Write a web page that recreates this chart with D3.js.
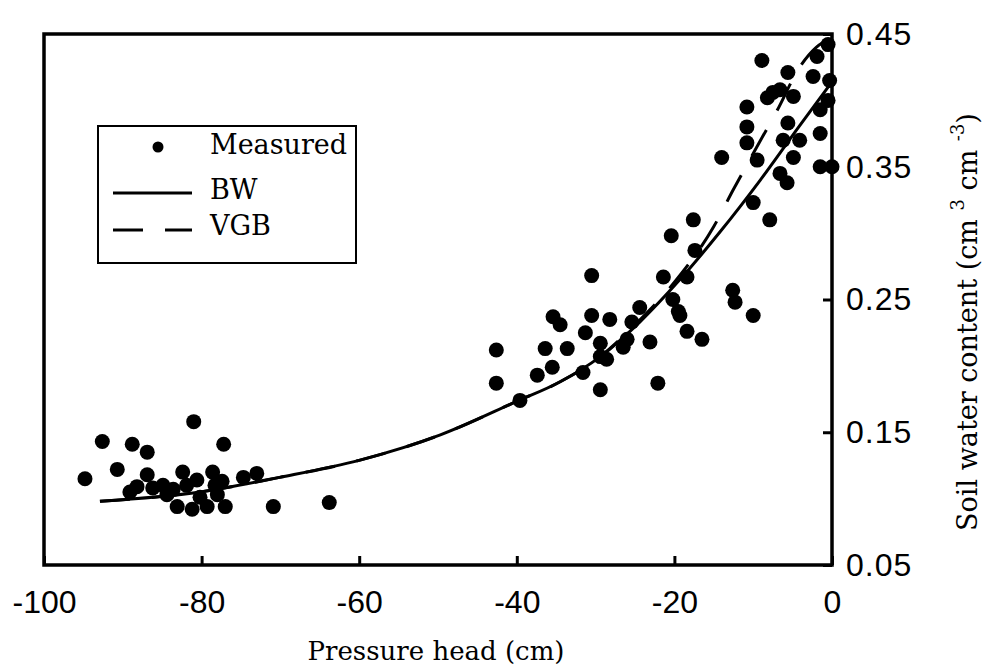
<!DOCTYPE html>
<html lang="en">
<head>
<meta charset="UTF-8">
<title>Soil water retention</title>
<script src="https://cdn.jsdelivr.net/npm/d3@7"></script>
<style>
  body{margin:0;background:#fff;}
  svg{display:block;}
  .tick text{font-family:"Liberation Sans",Arial,sans-serif;font-size:32px;fill:#000;}
  .serif{font-family:"DejaVu Serif",serif;fill:#000;}
</style>
</head>
<body>
<div id="chart"></div>
<script>
// tick values
var xTicks=[-100,-80,-60,-40,-20,0];
var yTicks=[0.05,0.15,0.25,0.35,0.45];

// measured points, pressure head (cm)
var measH=[-94.8,-92.6,-90.7,-88.8,-86.9,-81.0,-77.2,-70.9,-63.8,
  -89.1,-88.2,-86.9,-86.2,-84.9,-84.4,-83.6,-83.1,-82.4,-81.9,-81.2,-80.6,-80.2,-79.3,-78.6,-78.3,-78.0,-77.4,-77.0,-74.7,-73.0,
  -42.6,-42.6,-39.6,-37.4,-36.4,-35.5,-35.4,-34.5,-33.6,-31.3,-30.5,-30.5,-29.4,-29.4,-29.4,-28.6,-28.2,-31.6,
  -26.5,-26.0,-25.4,-24.4,-23.1,-22.1,-21.4,-20.4,-20.2,-19.5,-19.3,-18.4,-18.4,-17.6,-17.4,-16.5,
  -14.0,-12.6,-12.3,-10.0,-7.9,-10.0,
  -8.9,-5.6,-6.6,-8.2,-4.9,-10.8,-10.8,-10.8,-9.5,-5.6,-4.1,-6.2,-4.9,-5.7,-6.6,-1.5,0,-1.5,-1.5,-1.9,-0.5,-0.3,-0.5,-2.4,-7.5];
// measured points, soil water content (cm3 cm-3)
var measTheta=[0.115,0.143,0.122,0.141,0.135,0.158,0.141,0.094,0.097,
  0.105,0.109,0.118,0.108,0.110,0.103,0.107,0.094,0.120,0.110,0.092,0.114,0.101,0.094,0.120,0.110,0.103,0.113,0.094,0.116,0.119,
  0.212,0.187,0.174,0.193,0.213,0.199,0.237,0.231,0.213,0.225,0.268,0.238,0.217,0.207,0.182,0.205,0.235,0.195,
  0.214,0.220,0.233,0.244,0.218,0.187,0.267,0.298,0.250,0.241,0.238,0.267,0.226,0.310,0.287,0.220,
  0.357,0.257,0.248,0.238,0.310,0.323,
  0.430,0.421,0.408,0.402,0.403,0.395,0.380,0.368,0.355,0.383,0.370,0.370,0.357,0.338,0.345,0.350,0.350,0.393,0.375,0.433,0.442,0.415,0.400,0.418,0.406];

// BW fitted curve
var bwH=[-92.9,-80.2,-70.1,-59.9,-49.7,-40.1,-34.5,-29.4,-24.4,-19.3,-14.2,-9.1,-4.1,0];
var bwTheta=[0.098,0.105,0.116,0.129,0.148,0.173,0.188,0.207,0.233,0.265,0.301,0.340,0.381,0.414];

// VGB fitted curve (lies on BW in the dry range)
var vgbH=[-92.9,-80.2,-70.1,-59.9,-49.7,-40.1,-34.5,-29.4,-25,-20,-15,-12.5,-10,-7,-4,-2,0];
var vgbTheta=[0.098,0.105,0.116,0.129,0.148,0.173,0.188,0.207,0.231,0.263,0.305,0.333,0.360,0.392,0.426,0.440,0.447];

var W=988,H=670;
var svg=d3.select("#chart").append("svg").attr("width",W).attr("height",H);

var x=d3.scaleLinear().domain([-100,0]).range([44,832]);
var y=d3.scaleLinear().domain([0.05,0.45]).range([565,34]);

var line=d3.line().x(function(d){return x(d[0]);}).y(function(d){return y(d[1]);})
  .curve(d3.curveMonotoneX);

// curves
svg.append("path").datum(d3.zip(bwH,bwTheta))
  .attr("d",line).attr("fill","none")
  .attr("stroke","#000").attr("stroke-width",3);
svg.append("path").datum(d3.zip(vgbH,vgbTheta))
  .attr("d",line).attr("fill","none")
  .attr("stroke","#000").attr("stroke-width",3).attr("stroke-dasharray","30,22");

// points
svg.append("g").selectAll("circle").data(d3.zip(measH,measTheta)).enter()
  .append("circle")
  .attr("cx",function(d){return x(d[0]);})
  .attr("cy",function(d){return y(d[1]);})
  .attr("r",7.5).attr("fill","#000");

// frame
svg.append("rect").attr("x",x(-100)).attr("y",y(0.45))
  .attr("width",x(0)-x(-100)).attr("height",y(0.05)-y(0.45))
  .attr("fill","none").attr("stroke","#000").attr("stroke-width",3.5);

// axes, ticks pointing inward
var xAxis=svg.append("g").attr("transform","translate(0,"+y(0.05)+")")
  .call(d3.axisBottom(x).tickValues(xTicks).tickSize(-9).tickPadding(25)
    .tickFormat(function(d){return String(d);}));
var yAxis=svg.append("g").attr("transform","translate("+x(0)+",0)")
  .call(d3.axisRight(y).tickValues(yTicks).tickSize(-9).tickPadding(14)
    .tickFormat(d3.format(".2f")));
[xAxis,yAxis].forEach(function(g){
  g.select(".domain").remove();
  g.selectAll(".tick line").attr("stroke","#000").attr("stroke-width",3);
});
yAxis.selectAll(".tick text").style("letter-spacing","1px");

// legend
var lg=svg.append("g");
lg.append("rect").attr("x",98).attr("y",126).attr("width",258).attr("height",137)
  .attr("fill","#fff").attr("stroke","#000").attr("stroke-width",2);
lg.append("circle").attr("cx",158).attr("cy",147).attr("r",5.5).attr("fill","#000");
lg.append("line").attr("x1",113).attr("x2",192).attr("y1",193).attr("y2",193)
  .attr("stroke","#000").attr("stroke-width",3);
lg.append("line").attr("x1",113).attr("x2",192).attr("y1",230).attr("y2",230)
  .attr("stroke","#000").attr("stroke-width",3).attr("stroke-dasharray","30,22");
var legText=[["Measured",154],["BW",199],["VGB",235]];
lg.selectAll("text.leg").data(legText).enter().append("text").attr("class","serif leg")
  .attr("x",210).attr("y",function(d){return d[1];})
  .style("font-size","27px").text(function(d){return d[0];});

// axis titles
svg.append("text").attr("class","serif").attr("x",436).attr("y",660)
  .attr("text-anchor","middle").style("font-size","26px").text("Pressure head (cm)");

var yt=svg.append("text").attr("class","serif")
  .attr("transform","translate(977,322) rotate(-90)")
  .attr("text-anchor","middle").style("font-size","27px");
yt.append("tspan").text("Soil water content (cm ");
yt.append("tspan").attr("dy",-13).style("font-size","18px").text("3");
yt.append("tspan").attr("dy",13).text(" cm ");
yt.append("tspan").attr("dy",-13).style("font-size","18px").text("-3");
yt.append("tspan").attr("dy",13).text(")");
</script>
</body>
</html>
